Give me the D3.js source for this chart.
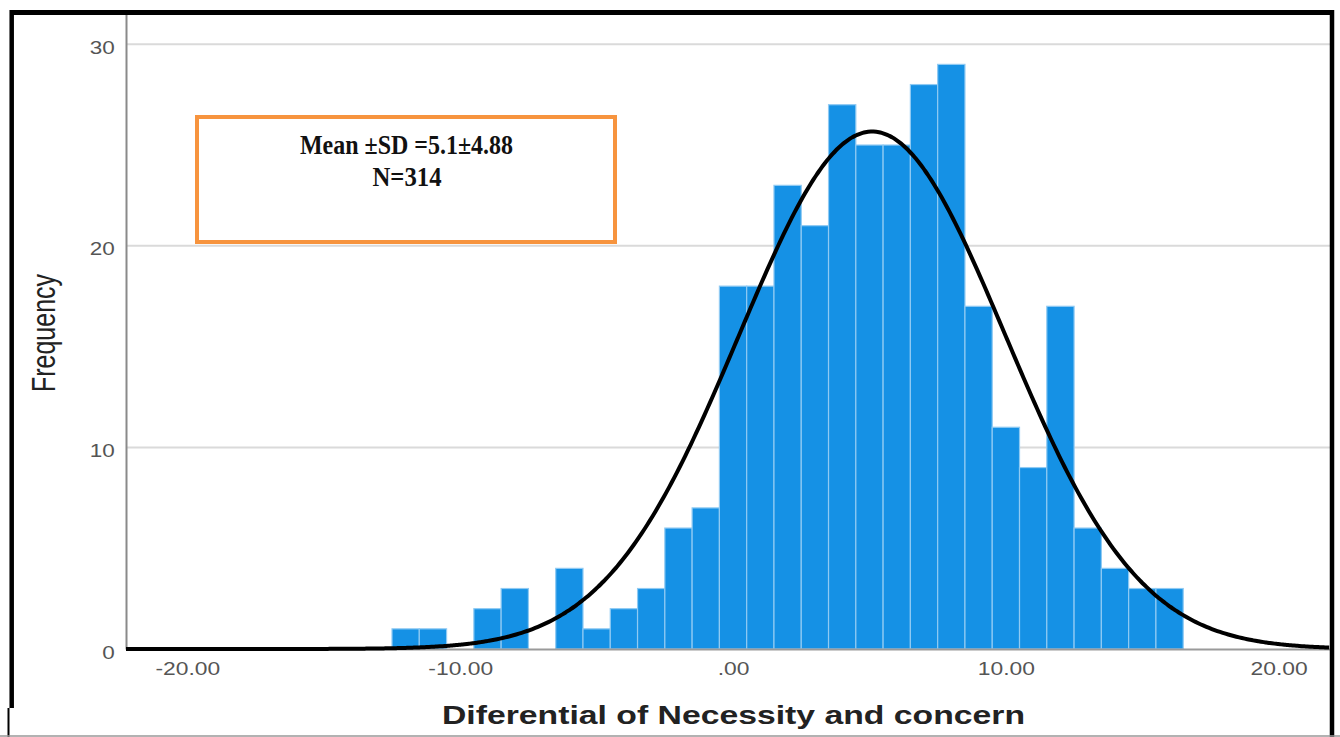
<!DOCTYPE html>
<html>
<head>
  <meta charset="UTF-8">
  <style>
    body { margin: 0; background: #fff; }
    svg { display: block; }
  </style>
</head>
<body>
<svg id="chart"></svg>

<script src="https://d3js.org/d3.v7.min.js"></script>
<script>

// histogram bins (left edge of each bin, width 1) and counts
var binStarts = [-12.5, -11.5, -10.5, -9.5, -8.5, -7.5, -6.5, -5.5, -4.5, -3.5,
                 -2.5, -1.5, -0.5, 0.5, 1.5, 2.5, 3.5, 4.5, 5.5, 6.5,
                 7.5, 8.5, 9.5, 10.5, 11.5, 12.5, 13.5, 14.5, 15.5];
var counts    = [1, 1, 0, 2, 3, 0, 4, 1, 2, 3,
                 6, 7, 18, 18, 23, 21, 27, 25, 25, 28,
                 29, 17, 11, 9, 17, 6, 4, 3, 3];
var binWidth = 1;

// stats shown in the box
var mean = 5.1, sd = 4.88, n = 314;

var xTicks = [-20, -10, 0, 10, 20];
var xTickLabels = ["-20.00", "-10.00", ".00", "10.00", "20.00"];
var yTicks = [0, 10, 20, 30];

var width = 1340, height = 737;
var svg = d3.select("#chart")
    .attr("width", width)
    .attr("height", height);

svg.append("rect")
    .attr("width", width)
    .attr("height", height)
    .attr("fill", "#fff");

var x = d3.scaleLinear()
    .domain([-22.25, 21.88])
    .range([126, 1330]);

var y = d3.scaleLinear()
    .domain([0, 31.5])
    .range([649, 14]);

// gridlines
svg.append("g")
    .selectAll("line")
    .data(yTicks.filter(d => d > 0))
    .enter()
    .append("line")
    .attr("x1", x.range()[0])
    .attr("x2", x.range()[1])
    .attr("y1", d => y(d))
    .attr("y2", d => y(d))
    .attr("stroke", "#dadada")
    .attr("stroke-width", 2);

// bars
svg.append("g")
    .selectAll("rect")
    .data(binStarts.map((b, i) => ({x0: b, c: counts[i]})).filter(d => d.c > 0))
    .enter()
    .append("rect")
    .attr("x", d => x(d.x0))
    .attr("width", d => x(d.x0 + binWidth) - x(d.x0))
    .attr("y", d => y(d.c))
    .attr("height", d => y(0) - y(d.c))
    .attr("fill", "#1591e5")
    .attr("stroke", "#8fcaf3")
    .attr("stroke-width", 1.2);

// x axis
var xAxis = d3.axisBottom(x)
    .tickValues(xTicks)
    .tickFormat((d, i) => xTickLabels[i])
    .tickSize(0)
    .tickSizeOuter(0)
    .tickPadding(13);

var gx = svg.append("g")
    .attr("transform", "translate(0," + y(0) + ")")
    .call(xAxis);
gx.select(".domain").attr("stroke", "#9a9a9a").attr("stroke-width", 2);
gx.selectAll("text")
    .attr("font-family", "Liberation Sans, Arial, sans-serif")
    .attr("font-size", 18)
    .attr("fill", "#555")
    .attr("transform", "scale(1.27,1)");

// y axis
var yAxis = d3.axisLeft(y)
    .tickValues(yTicks)
    .tickFormat(d3.format("d"))
    .tickSize(0)
    .tickSizeOuter(0)
    .tickPadding(9);

var gy = svg.append("g")
    .attr("transform", "translate(" + x.range()[0] + ",0)")
    .call(yAxis);
gy.select(".domain").attr("stroke", "#8a8a8a").attr("stroke-width", 2);
gy.selectAll("text")
    .attr("font-family", "Liberation Sans, Arial, sans-serif")
    .attr("font-size", 18)
    .attr("fill", "#555")
    .attr("dy", "0.5em")
    .attr("transform", "scale(1.25,1)");

// normal curve from the stated mean / sd / n
var curveXs = d3.range(x.domain()[0], x.domain()[1] + 0.001, 0.1);
var normal = v => n * binWidth * Math.exp(-0.5 * Math.pow((v - mean) / sd, 2)) / (sd * Math.sqrt(2 * Math.PI));

svg.append("path")
    .datum(curveXs)
    .attr("d", d3.line().x(d => x(d)).y(d => y(normal(d))).curve(d3.curveBasis))
    .attr("fill", "none")
    .attr("stroke", "#000")
    .attr("stroke-width", 4);

// annotation box
svg.append("rect")
    .attr("x", 197)
    .attr("y", 117)
    .attr("width", 418)
    .attr("height", 125)
    .attr("fill", "none")
    .attr("stroke", "#f7943e")
    .attr("stroke-width", 4);

svg.append("text")
    .attr("x", 406.5)
    .attr("y", 154)
    .attr("text-anchor", "middle")
    .attr("font-family", "Liberation Serif, Times New Roman, serif")
    .attr("font-weight", "bold")
    .attr("font-size", 27)
    .attr("textLength", 213)
    .attr("lengthAdjust", "spacingAndGlyphs")
    .attr("fill", "#111")
    .text("Mean ±SD =" + mean + "±" + sd.toFixed(2));

svg.append("text")
    .attr("x", 407)
    .attr("y", 186)
    .attr("text-anchor", "middle")
    .attr("font-family", "Liberation Serif, Times New Roman, serif")
    .attr("font-weight", "bold")
    .attr("font-size", 27)
    .attr("textLength", 69)
    .attr("lengthAdjust", "spacingAndGlyphs")
    .attr("fill", "#111")
    .text("N=" + n);

// axis titles
svg.append("text")
    .attr("transform", "translate(55,333) scale(1.35,1) rotate(-90)")
    .attr("text-anchor", "middle")
    .attr("font-family", "Liberation Sans, Arial, sans-serif")
    .attr("font-size", 25)
    .attr("fill", "#222")
    .text("Frequency");

svg.append("text")
    .attr("x", 733.5)
    .attr("y", 724)
    .attr("text-anchor", "middle")
    .attr("font-family", "Liberation Sans, Arial, sans-serif")
    .attr("font-weight", "bold")
    .attr("font-size", 26)
    .attr("textLength", 583)
    .attr("lengthAdjust", "spacingAndGlyphs")
    .attr("fill", "#222")
    .text("Diferential of Necessity and concern");

// outer frame
var frame = svg.append("g").attr("stroke", "#000").attr("fill", "none");
frame.append("line").attr("x1", 10).attr("x2", 1334).attr("y1", 12.5).attr("y2", 12.5).attr("stroke-width", 5);
frame.append("line").attr("x1", 11.7).attr("x2", 11.7).attr("y1", 10).attr("y2", 708).attr("stroke-width", 4.5);
frame.append("line").attr("x1", 1332).attr("x2", 1332).attr("y1", 10).attr("y2", 737).attr("stroke-width", 4.5);
frame.append("line").attr("x1", 8.5).attr("x2", 8.5).attr("y1", 708).attr("y2", 737).attr("stroke-width", 2);
frame.append("line").attr("x1", 0).attr("x2", 1340).attr("y1", 736).attr("y2", 736).attr("stroke", "#999").attr("stroke-width", 1.5);

</script>
</body>
</html>
